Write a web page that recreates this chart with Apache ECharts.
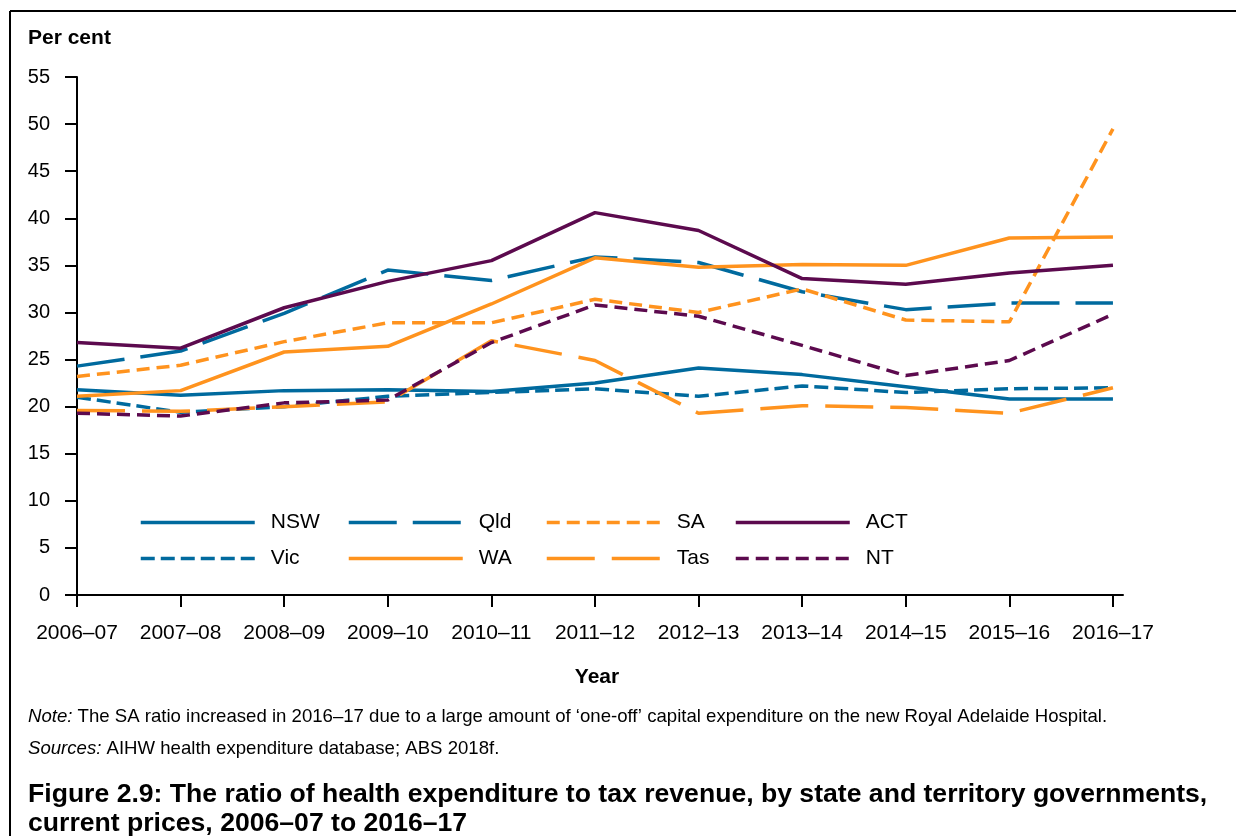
<!DOCTYPE html>
<html>
<head>
    <title>Health expenditure to tax revenue</title>
    <meta charset="UTF-8">
    <script src="https://cdn.jsdelivr.net/npm/echarts@6/dist/echarts.min.js"></script>
    <style>
        html, body { margin: 0; padding: 0; background: #fff; }
        #chart { width: 1236px; height: 836px; }
    </style>
</head>
<body>
    <div id="chart"></div>
    <script>
        // data (per cent)
        var years = ['2006–07', '2007–08', '2008–09', '2009–10', '2010–11', '2011–12', '2012–13', '2013–14', '2014–15', '2015–16', '2016–17'];
        var nsw = [21.8, 21.2, 21.7, 21.8, 21.6, 22.5, 24.1, 23.4, 22.1, 20.8, 20.8];
        var vic = [21.0, 19.4, 20.0, 21.1, 21.5, 21.9, 21.1, 22.2, 21.5, 21.9, 22.0];
        var qld = [24.3, 25.9, 29.9, 34.5, 33.4, 35.9, 35.3, 32.2, 30.3, 31.0, 31.0];
        var wa  = [21.1, 21.7, 25.8, 26.4, 30.9, 35.8, 34.8, 35.1, 35.0, 37.9, 38.0];
        var sa  = [23.2, 24.4, 26.9, 28.9, 28.9, 31.4, 30.0, 32.5, 29.2, 29.0, 49.5];
        var tas = [19.6, 19.5, 20.0, 20.5, 27.0, 24.9, 19.3, 20.1, 19.9, 19.3, 22.0];
        var act = [26.8, 26.2, 30.5, 33.3, 35.5, 40.6, 38.7, 33.6, 33.0, 34.2, 35.0];
        var nt  = [19.3, 19.0, 20.4, 20.7, 26.8, 30.8, 29.6, 26.5, 23.3, 24.9, 29.8];
        var yTicks = [0, 5, 10, 15, 20, 25, 30, 35, 40, 45, 50, 55];

        var BLUE = '#006a9e', ORANGE = '#ff931e', PURPLE = '#5c0a4e';
        var FONT = 'Liberation Sans, Arial, sans-serif';

        function pts(arr) {
            return arr.map(function (v, i) { return [i, v]; });
        }
        function line(name, arr, color, dash) {
            return {
                name: name, type: 'line', data: pts(arr),
                symbol: 'none', showSymbol: false, silent: true,
                lineStyle: { color: color, width: 3.5, type: dash },
                itemStyle: { color: color },
                animation: false
            };
        }
        function legend(left, names) {
            return {
                orient: 'vertical', left: left, top: 512, padding: 0,
                data: names, itemWidth: 114, itemHeight: 24, itemGap: 15,
                selectedMode: false,
                itemStyle: { opacity: 0 },
                lineStyle: { width: 3.5 },
                textStyle: { fontFamily: FONT, fontSize: 21, color: '#000', padding: [0, 0, 0, 11] }
            };
        }

        var chart = echarts.init(document.getElementById('chart'));
        chart.setOption({
            animation: false,
            title: {
                text: 'Per cent', left: 28, top: 28, padding: 0,
                textStyle: { fontFamily: FONT, fontSize: 21, fontWeight: 'bold', color: '#000' }
            },
            grid: { left: 71, right: 113, top: 77, bottom: 241 },
            legend: [
                legend(139, ['NSW', 'Vic']),
                legend(347, ['Qld', 'WA']),
                legend(545, ['SA', 'Tas']),
                legend(734, ['ACT', 'NT'])
            ],
            xAxis: {
                type: 'value', min: -0.058, max: 10.097,
                name: 'Year', nameLocation: 'middle', nameGap: 72,
                nameTextStyle: { fontFamily: FONT, fontSize: 21, fontWeight: 'bold', color: '#000' },
                splitLine: { show: false },
                axisLine: { show: true, onZero: false, lineStyle: { color: '#000', width: 2 } },
                axisTick: { show: true, length: 12, lineStyle: { color: '#000', width: 2 },
                    customValues: years.map(function (y, i) { return i; }) },
                axisLabel: { margin: 28, fontFamily: FONT, fontSize: 21, color: '#000',
                    customValues: years.map(function (y, i) { return i; }),
                    formatter: function (v) { return years[Math.round(v)]; } }
            },
            yAxis: {
                type: 'value', min: 0, max: 55, interval: 5,
                splitLine: { show: false },
                axisLine: { show: true, lineStyle: { color: '#000', width: 2 } },
                axisTick: { show: true, length: 12, lineStyle: { color: '#000', width: 2 } },
                axisLabel: { margin: 21, fontFamily: FONT, fontSize: 20, color: '#000',
                    formatter: function (v) { return yTicks.indexOf(v) >= 0 ? String(v) : ''; } }
            },
            series: [
                line('NSW', nsw, BLUE, 'solid'),
                line('Vic', vic, BLUE, [14, 6]),
                line('Qld', qld, BLUE, [48, 16]),
                line('WA', wa, ORANGE, 'solid'),
                line('SA', sa, ORANGE, [13, 7]),
                line('Tas', tas, ORANGE, [48, 17]),
                line('ACT', act, PURPLE, 'solid'),
                line('NT', nt, PURPLE, [13, 7])
            ],
            graphic: [
                { type: 'line', shape: { x1: 10, y1: 11, x2: 1236, y2: 11 }, style: { stroke: '#000', lineWidth: 2 } },
                { type: 'line', shape: { x1: 10, y1: 11, x2: 10, y2: 836 }, style: { stroke: '#000', lineWidth: 2 } },
                {
                    type: 'text', left: 28, top: 707,
                    style: {
                        text: '{i|Note:} The SA ratio increased in 2016–17 due to a large amount of ‘one-off’ capital expenditure on the new Royal Adelaide Hospital.',
                        fontFamily: FONT, fontSize: 18.6, fill: '#000',
                        rich: { i: { fontStyle: 'italic', fontFamily: FONT, fontSize: 18.6 } }
                    }
                },
                {
                    type: 'text', left: 28, top: 739,
                    style: {
                        text: '{i|Sources:} AIHW health expenditure database; ABS 2018f.',
                        fontFamily: FONT, fontSize: 18.6, fill: '#000',
                        rich: { i: { fontStyle: 'italic', fontFamily: FONT, fontSize: 18.6 } }
                    }
                },
                {
                    type: 'text', left: 28, top: 780,
                    style: {
                        text: 'Figure 2.9: The ratio of health expenditure to tax revenue, by state and territory governments,\ncurrent prices, 2006–07 to 2016–17',
                        fontFamily: FONT, fontSize: 26.6, fontWeight: 'bold', fill: '#000', lineHeight: 29
                    }
                }
            ]
        });
    </script>
</body>
</html>
